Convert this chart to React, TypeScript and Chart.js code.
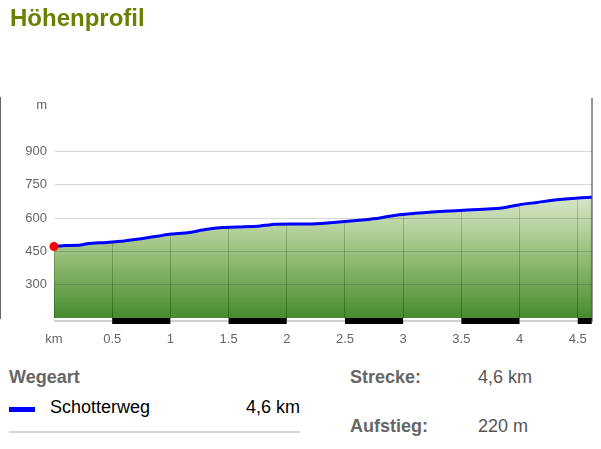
import React, { useEffect, useRef } from 'react';
import { Chart, registerables } from 'chart.js';

Chart.register(...registerables);

// ---- data ----
const distanceKm = [0, 0.1, 0.2, 0.3, 0.45, 0.6, 0.75, 0.9, 1.0, 1.15, 1.3, 1.45, 1.6, 1.75, 1.9, 2.05, 2.2, 2.35, 2.5, 2.65, 2.8, 2.95, 3.1, 3.25, 3.45, 3.65, 3.85, 4.0, 4.15, 4.3, 4.45, 4.62];
const elevationM = [472, 476, 477, 485, 490, 497, 507, 519, 528, 534, 548, 557, 560, 563, 572, 573, 573, 578, 584, 591, 600, 614, 621, 627, 633, 638, 645, 660, 670, 681, 688, 693];
const xTickValues = [0, 0.5, 1, 1.5, 2, 2.5, 3, 3.5, 4, 4.5];
const xTickLabels = ['km', '0.5', '1', '1.5', '2', '2.5', '3', '3.5', '4', '4.5'];
const yTickValues = [300, 450, 600, 750, 900];
const yUnitLabel = 'm';
const yUnitValue = 1105;
const xMin = 0;
const xMax = 4.62;
const yMin = 150;
const yMax = 1140;

const titleText = 'Höhenprofil';
const legendTitle = 'Wegeart';
const wayTypes = ['Schotterweg'];
const wayLengths = ['4,6 km'];
const wayColors = ['#0000ff'];
const statLabels = ['Strecke:', 'Aufstieg:'];
const statValues = ['4,6 km', '220 m'];

const FONT = '"Liberation Sans", Arial, Helvetica, sans-serif';

const decorPlugin = {
  id: 'decor',
  beforeDatasetsDraw(chart: any) {
    const { ctx, chartArea } = chart;
    ctx.save();
    ctx.strokeStyle = '#666';
    ctx.lineWidth = 2;
    ctx.beginPath();
    ctx.moveTo(chartArea.right, chartArea.top);
    ctx.lineTo(chartArea.right, chartArea.bottom + 4);
    ctx.stroke();
    ctx.restore();
  },
  afterDraw(chart: any) {
    const { ctx, chartArea, scales } = chart;
    const xs = scales.x;
    const y0 = chartArea.bottom;
    ctx.save();
    ctx.strokeStyle = '#d0d0d0';
    ctx.lineWidth = 2;
    ctx.beginPath();
    ctx.moveTo(chartArea.left, y0 + 3);
    ctx.lineTo(chartArea.right, y0 + 3);
    ctx.stroke();
    ctx.fillStyle = '#000';
    for (let i = 1; i < xTickValues.length; i += 2) {
      const a = xs.getPixelForValue(xTickValues[i]);
      const bVal = i + 1 < xTickValues.length ? xTickValues[i + 1] : xMax;
      const b = xs.getPixelForValue(bVal);
      ctx.fillRect(a, y0, b - a, 6);
    }
    ctx.restore();
  },
};

function ProfileChart() {
  const ref = useRef<HTMLCanvasElement | null>(null);
  useEffect(() => {
    if (!ref.current) return;
    const points = distanceKm.map((x, i) => ({ x, y: elevationM[i] }));
    const tickFont = { family: FONT, size: 13 };
    const chart = new Chart(ref.current, {
      type: 'line',
      data: {
        datasets: [
          {
            data: points,
            clip: false,
            borderColor: '#0000ff',
            borderWidth: 3,
            tension: 0.15,
            fill: 'start',
            backgroundColor: (c: any) => {
              const ch = c.chart;
              const { chartArea, scales } = ch;
              if (!chartArea || !scales.y) return 'rgba(120,170,80,0.8)';
              const top = scales.y.getPixelForValue(720);
              const g = ch.ctx.createLinearGradient(0, top, 0, chartArea.bottom);
              g.addColorStop(0, 'rgba(212,228,198,0.8)');
              g.addColorStop(0.45, 'rgba(136,181,99,0.8)');
              g.addColorStop(1, 'rgba(30,115,0,0.82)');
              return g;
            },
            pointRadius: (c: any) => (c.dataIndex === 0 ? 4.5 : 0),
            pointHoverRadius: (c: any) => (c.dataIndex === 0 ? 4.5 : 0),
            pointBackgroundColor: '#ff0000',
            pointBorderWidth: 0,
            pointBorderColor: '#ff0000',
          },
          {
            data: points,
            borderWidth: 0,
            borderColor: 'rgba(0,0,0,0)',
            pointRadius: 0,
            fill: 'end',
            backgroundColor: '#ffffff',
          },
        ],
      } as any,
      options: {
        responsive: false,
        animation: false,
        devicePixelRatio: 1,
        events: [],
        layout: { padding: { top: 98, right: 9, left: 0, bottom: 0 } },
        plugins: { legend: { display: false }, tooltip: { enabled: false } },
        scales: {
          x: {
            type: 'linear',
            min: xMin,
            max: xMax,
            afterBuildTicks: (s: any) => {
              s.ticks = xTickValues.map((v) => ({ value: v }));
            },
            afterFit: (s: any) => {
              s.height = 32;
            },
            ticks: {
              callback: (v: any) => xTickLabels[xTickValues.indexOf(Number(v))] ?? '',
              font: tickFont,
              color: '#666',
              padding: 14,
              maxRotation: 0,
              autoSkip: false,
            },
            grid: { color: 'rgba(60,60,60,0.9)', lineWidth: 1, drawTicks: false },
            border: { display: false },
          },
          y: {
            type: 'linear',
            min: yMin,
            max: yMax,
            afterBuildTicks: (s: any) => {
              s.ticks = [...yTickValues, yUnitValue].map((v) => ({ value: v }));
            },
            afterFit: (s: any) => {
              s.width = 54;
            },
            ticks: {
              callback: (v: any) => (Number(v) === yUnitValue ? yUnitLabel : String(v)),
              font: tickFont,
              color: '#666',
              padding: 7,
              autoSkip: false,
            },
            grid: {
              z: 1,
              drawTicks: false,
              lineWidth: 1,
              color: (c: any) =>
                c.tick && c.tick.value === yUnitValue ? 'rgba(0,0,0,0)' : 'rgba(0,0,0,0.16)',
            },
            border: { color: '#666', width: 2 },
          },
        },
      } as any,
      plugins: [decorPlugin],
    });
    return () => chart.destroy();
  }, []);
  return (
    <canvas
      ref={ref}
      width={601}
      height={350}
      style={{ position: 'absolute', left: 0, top: 0, width: 601, height: 350 }}
    />
  );
}

export default function App() {
  const labelStyle: React.CSSProperties = {
    position: 'absolute',
    fontSize: 18,
    lineHeight: '18px',
    whiteSpace: 'nowrap',
  };
  return (
    <div
      style={{
        position: 'absolute',
        left: 0,
        top: 0,
        width: 601,
        height: 449,
        background: '#fff',
        fontFamily: FONT,
        overflow: 'hidden',
      }}
    >
      <ProfileChart />
      <div
        style={{
          position: 'absolute',
          left: 10,
          top: 6,
          fontSize: 24,
          lineHeight: '24px',
          fontWeight: 'bold',
          color: '#6b7f00',
        }}
      >
        {titleText}
      </div>
      <div style={{ ...labelStyle, left: 9, top: 368, fontWeight: 'bold', color: '#666' }}>{legendTitle}</div>
      {wayTypes.map((w, i) => (
        <React.Fragment key={w}>
          <div
            style={{
              position: 'absolute',
              left: 9,
              top: 407 + i * 30,
              width: 26,
              height: 5,
              background: wayColors[i],
            }}
          />
          <div style={{ ...labelStyle, left: 50, top: 398 + i * 30, color: '#000' }}>{w}</div>
          <div style={{ ...labelStyle, right: 601 - 300, top: 398 + i * 30, color: '#000' }}>{wayLengths[i]}</div>
        </React.Fragment>
      ))}
      <div
        style={{
          position: 'absolute',
          left: 9,
          top: 431,
          width: 291,
          height: 2,
          background: '#d5d5d5',
        }}
      />
      {statLabels.map((s, i) => (
        <React.Fragment key={s}>
          <div style={{ ...labelStyle, left: 350, top: 368 + i * 49, fontWeight: 'bold', color: '#666' }}>{s}</div>
          <div style={{ ...labelStyle, left: 478, top: 368 + i * 49, color: '#555' }}>{statValues[i]}</div>
        </React.Fragment>
      ))}
    </div>
  );
}
